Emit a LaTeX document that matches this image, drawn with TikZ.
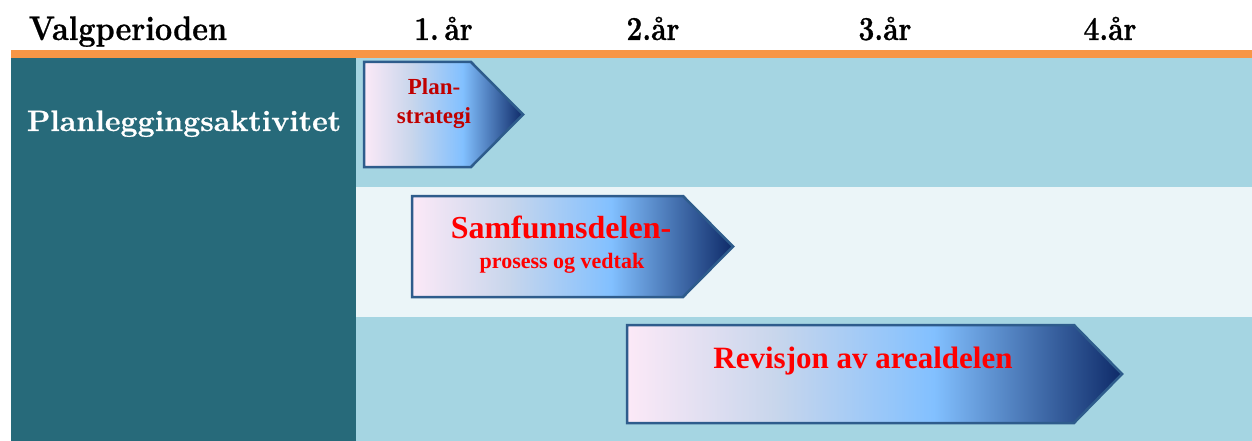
\documentclass[tikz,border=0pt]{standalone}
\usepackage{fontspec}
\newfontfamily\tnr{Liberation Serif}
\newfontfamily\lmh{Latin Modern Roman}[BoldFeatures={FakeBold=0.8}]
\definecolor{orangebar}{HTML}{F79646}
\definecolor{tealcol}{HTML}{276A7A}
\definecolor{lightpanel}{HTML}{A5D5E2}
\definecolor{palepanel}{HTML}{EBF5F8}
\definecolor{arrowedge}{HTML}{2E5C8C}
\definecolor{shA}{HTML}{FCE9F7}
\definecolor{shB}{HTML}{C8D6EC}
\definecolor{shC}{HTML}{82C0FF}
\definecolor{shD}{HTML}{0E2A68}
\definecolor{darkred}{HTML}{C00000}
\pgfdeclarehorizontalshading{arrowshade}{100bp}{color(0bp)=(shA); color(25bp)=(shA); color(40bp)=(shB); color(56bp)=(shC); color(75bp)=(shD); color(100bp)=(shD)}
\tikzset{
  arrowbox/.style={shading=arrowshade, draw=arrowedge, line width=2.5pt, line join=miter},
  header/.style={anchor=base, font=\lmh\fontsize{34}{38}\selectfont\bfseries, text=black, inner sep=0pt},
  yearlabel/.style={header, xscale=0.84, font=\lmh\fontsize{33.5}{38}\selectfont\bfseries},
  arrowtext/.style={font=\tnr\bfseries, inner sep=0pt, anchor=base, align=center}
}
\begin{document}
\begin{tikzpicture}[x=1pt,y=-1pt]
\useasboundingbox (0,0) rectangle (1252,441);
\fill[white] (0,0) rectangle (1252,441);
% panels
\fill[lightpanel] (356,58) rectangle (1252,187);
\fill[palepanel] (356,187) rectangle (1252,317);
\fill[lightpanel] (356,317) rectangle (1252,441);
\fill[tealcol] (11,58) rectangle (356,441);
\fill[orangebar] (11,50) rectangle (1252,58);
% header
\node[header, xscale=0.9] (valg) at (128,40) {Valgperioden};
\node[yearlabel] (y1) at (443.5,40) {1.\kern0.2em år};
\node[yearlabel] (y2) at (653,40) {2.år};
\node[yearlabel] (y3) at (885,40) {3.år};
\node[yearlabel] (y4) at (1110,40) {4.år};
\node[anchor=base, font=\lmh\fontsize{29.5}{34}\selectfont\bfseries, text=white, inner sep=0pt, xscale=1.03] (plan) at (184,131) {Planleggingsaktivitet};
% arrows
\path[arrowbox] (364,62) -- (471,62) -- (523,114.5) -- (471,167) -- (364,167) -- cycle;
\path[arrowbox] (412,196) -- (683,196) -- (733,246.5) -- (683,297) -- (412,297) -- cycle;
\path[arrowbox] (627,325) -- (1074,325) -- (1122,374) -- (1074,423) -- (627,423) -- cycle;
% arrow texts
\node[arrowtext, text=darkred, font=\tnr\bfseries\fontsize{23}{29}\selectfont] (ps1) at (434,95) {Plan-};
\node[arrowtext, text=darkred, font=\tnr\bfseries\fontsize{23}{29}\selectfont] (ps2) at (434,124) {strategi};
\node[arrowtext, text=red, font=\tnr\bfseries\fontsize{32}{36}\selectfont] (sd1) at (561,238) {Samfunnsdelen-};
\node[arrowtext, text=red, font=\tnr\bfseries\fontsize{22}{26}\selectfont] (sd2) at (562,268) {prosess og vedtak};
\node[arrowtext, text=red, font=\tnr\bfseries\fontsize{31}{36}\selectfont] (rev) at (863,368) {Revisjon av arealdelen};
\end{tikzpicture}
\end{document}
